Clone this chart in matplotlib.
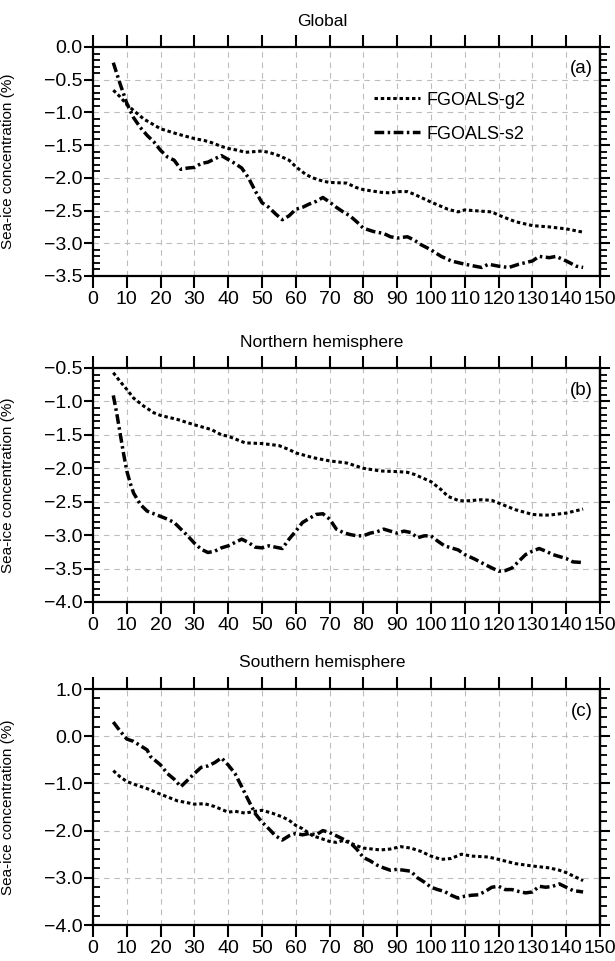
import matplotlib
matplotlib.use("Agg")
import matplotlib.pyplot as plt
from matplotlib.ticker import MultipleLocator, FuncFormatter
import numpy as np

plt.rcParams['font.family'] = ['Liberation Sans', 'DejaVu Sans']
plt.rcParams['lines.scale_dashes'] = False

# ---------------- data ----------------
labels = ["FGOALS-g2", "FGOALS-s2"]
titles = ["Global", "Northern hemisphere", "Southern hemisphere"]
panel_tags = ["(a)", "(b)", "(c)"]
ylabel = "Sea-ice concentration (%)"

# Panel (a) Global
a_g2_x = [6, 8, 10, 12, 15, 20, 25, 30, 33, 35, 38, 40, 43, 45, 50, 52, 55, 58, 60, 63, 65, 68, 70, 75, 78, 80,
          85, 88, 90, 93, 95, 100, 105, 108, 110, 115, 118, 120, 125, 130, 135, 140, 145]
a_g2_y = [-0.66, -0.76, -0.88, -0.97, -1.10, -1.25, -1.33, -1.40, -1.43, -1.46, -1.52, -1.55, -1.58, -1.61, -1.59,
          -1.61, -1.66, -1.73, -1.83, -1.95, -2.00, -2.05, -2.07, -2.08, -2.15, -2.18, -2.22, -2.23, -2.21, -2.21,
          -2.25, -2.37, -2.48, -2.52, -2.49, -2.51, -2.52, -2.57, -2.67, -2.73, -2.75, -2.78, -2.83]
a_s2_x = [6, 8, 10, 12, 14, 16, 18, 20, 22, 24, 26, 28, 30, 32, 34, 36, 38, 40, 42, 44, 46, 48, 50, 52, 54, 56, 58,
          60, 62, 64, 66, 68, 70, 72, 74, 76, 78, 80, 83, 86, 88, 90, 93, 95, 97, 100, 103, 106, 110, 113, 115,
          117, 120, 123, 126, 130, 132, 135, 137, 140, 143, 145]
a_s2_y = [-0.24, -0.56, -0.86, -1.08, -1.23, -1.35, -1.45, -1.58, -1.68, -1.73, -1.87, -1.85, -1.84, -1.78, -1.76,
          -1.71, -1.66, -1.72, -1.78, -1.85, -2.00, -2.20, -2.38, -2.45, -2.55, -2.64, -2.58, -2.48, -2.45, -2.40,
          -2.36, -2.30, -2.37, -2.45, -2.52, -2.58, -2.67, -2.77, -2.82, -2.85, -2.90, -2.92, -2.90, -2.95, -3.02,
          -3.10, -3.20, -3.27, -3.32, -3.35, -3.37, -3.32, -3.35, -3.37, -3.32, -3.27, -3.20, -3.22, -3.20, -3.27,
          -3.35, -3.37]

# Panel (b) Northern hemisphere
b_g2_x = [6, 8, 10, 12, 15, 18, 20, 25, 30, 35, 38, 40, 45, 50, 55, 58, 60, 65, 70, 75, 80, 85, 90, 93, 95, 100,
          103, 105, 108, 110, 115, 118, 120, 125, 130, 133, 135, 140, 145]
b_g2_y = [-0.57, -0.70, -0.82, -0.95, -1.07, -1.17, -1.21, -1.27, -1.35, -1.42, -1.50, -1.52, -1.62, -1.63, -1.66,
          -1.72, -1.77, -1.84, -1.89, -1.92, -2.00, -2.04, -2.05, -2.06, -2.09, -2.20, -2.32, -2.42, -2.48, -2.49,
          -2.47, -2.48, -2.52, -2.62, -2.69, -2.70, -2.70, -2.67, -2.61]
b_s2_x = [6, 7, 8, 9, 10, 11, 12, 14, 16, 18, 20, 22, 24, 26, 28, 30, 32, 34, 36, 38, 40, 42, 44, 46, 48, 50, 52,
          54, 56, 58, 60, 62, 64, 66, 68, 70, 72, 74, 76, 78, 80, 82, 84, 86, 88, 90, 92, 94, 96, 98, 100, 102, 104,
          106, 108, 110, 113, 116, 118, 120, 122, 124, 126, 128, 130, 132, 134, 136, 138, 140, 142, 145]
b_s2_y = [-0.91, -1.17, -1.47, -1.77, -2.04, -2.22, -2.37, -2.54, -2.64, -2.68, -2.72, -2.76, -2.81, -2.91, -3.01,
          -3.12, -3.21, -3.26, -3.24, -3.19, -3.16, -3.11, -3.06, -3.11, -3.18, -3.19, -3.16, -3.18, -3.20, -3.06,
          -2.94, -2.81, -2.75, -2.69, -2.68, -2.76, -2.91, -2.96, -2.99, -3.01, -3.01, -2.97, -2.95, -2.91, -2.94,
          -2.97, -2.94, -2.96, -3.04, -3.01, -3.01, -3.09, -3.16, -3.19, -3.22, -3.29, -3.36, -3.44, -3.49, -3.54,
          -3.53, -3.49, -3.39, -3.29, -3.24, -3.20, -3.24, -3.29, -3.32, -3.35, -3.40, -3.41]

# Panel (c) Southern hemisphere
c_g2_x = [6, 8, 10, 13, 16, 20, 25, 28, 30, 33, 36, 40, 42, 45, 48, 50, 53, 56, 58, 60, 62, 65, 68, 70, 72, 74, 76,
          78, 80, 85, 88, 91, 94, 97, 100, 103, 106, 109, 112, 117, 120, 125, 130, 135, 138, 140, 145]
c_g2_y = [-0.73, -0.86, -0.96, -1.04, -1.11, -1.23, -1.37, -1.41, -1.44, -1.43, -1.49, -1.61, -1.59, -1.63, -1.59,
          -1.57, -1.63, -1.71, -1.78, -1.89, -1.96, -2.11, -2.18, -2.23, -2.25, -2.21, -2.26, -2.32, -2.37, -2.41,
          -2.39, -2.34, -2.37, -2.44, -2.54, -2.61, -2.59, -2.50, -2.54, -2.56, -2.61, -2.70, -2.75, -2.79, -2.84,
          -2.89, -3.06]
c_s2_x = [6, 8, 10, 12, 14, 16, 17, 20, 22, 24, 26, 28, 30, 32, 34, 36, 38, 40, 42, 44, 46, 48, 50, 52, 54, 56, 58,
          60, 62, 64, 66, 68, 70, 72, 74, 76, 78, 80, 82, 84, 86, 88, 90, 92, 94, 96, 98, 100, 102, 104, 106, 108,
          110, 112, 114, 116, 118, 120, 122, 124, 126, 128, 130, 132, 134, 136, 138, 140, 142, 145]
c_s2_y = [0.30, 0.11, -0.06, -0.11, -0.20, -0.29, -0.43, -0.61, -0.79, -0.91, -1.07, -0.93, -0.79, -0.66, -0.63,
          -0.56, -0.46, -0.61, -0.79, -1.07, -1.36, -1.64, -1.82, -1.96, -2.11, -2.20, -2.11, -2.06, -2.09, -2.06,
          -2.09, -2.00, -2.04, -2.11, -2.18, -2.25, -2.39, -2.57, -2.64, -2.73, -2.79, -2.84, -2.82, -2.84, -2.86,
          -3.00, -3.09, -3.20, -3.25, -3.29, -3.37, -3.43, -3.39, -3.37, -3.36, -3.29, -3.20, -3.18, -3.25, -3.25,
          -3.29, -3.32, -3.30, -3.18, -3.20, -3.18, -3.13, -3.20, -3.27, -3.30]

panels = [
    (a_g2_x, a_g2_y, a_s2_x, a_s2_y, (-3.5, 0.0), 0.5, 0.1),
    (b_g2_x, b_g2_y, b_s2_x, b_s2_y, (-4.0, -0.5), 0.5, 0.1),
    (c_g2_x, c_g2_y, c_s2_x, c_s2_y, (-4.0, 1.0), 1.0, 0.2),
]


def yfmt(v, pos):
    s = "%.1f" % v
    if s == "-0.0":
        s = "0.0"
    return s.replace("-", "\u2212")


# ---------------- figure ----------------
W, H = 615, 961
fig = plt.figure(figsize=(W / 100, H / 100), dpi=100)

left_px, right_px = 93, 600
tops = [47, 368, 689]
bottoms = [276, 602, 925]
title_y = [22, 342, 663]

for i, (gx, gy, sx, sy, ylim, ymaj, ymin) in enumerate(panels):
    t, b = tops[i], bottoms[i]
    ax = fig.add_axes([left_px / W, 1 - b / H, (right_px - left_px) / W, (b - t) / H])
    ax.plot(gx, gy, color='black', lw=2.2, linestyle=(0, (2.5, 2.0)), label=labels[0],
            dash_capstyle='butt')
    ax.plot(sx, sy, color='black', lw=2.5, linestyle=(0, (7, 2.5, 1.8, 2.5)), label=labels[1],
            dash_capstyle='butt')
    ax.set_xlim(0, 150)
    ax.set_ylim(*ylim)
    ax.xaxis.set_major_locator(MultipleLocator(10))
    ax.yaxis.set_major_locator(MultipleLocator(ymaj))
    ax.yaxis.set_minor_locator(MultipleLocator(ymin))
    ax.yaxis.set_major_formatter(FuncFormatter(yfmt))
    ax.grid(True, which='major', color='#bdbdbd', linestyle=(0, (4, 3.5)), lw=0.8)
    for sp in ax.spines.values():
        sp.set_linewidth(1.6)
    ax.tick_params(axis='x', which='major', direction='out', top=True, bottom=True,
                   length=8.5, width=1.5, labelsize=14, pad=2)
    ax.tick_params(axis='y', which='major', direction='out', left=True, right=False,
                   length=6.5, width=1.5, labelsize=14, pad=1)
    ax.tick_params(axis='y', which='minor', direction='in', left=True, right=False,
                   length=5, width=1.3)
    sec = ax.secondary_yaxis('right')
    sec.yaxis.set_major_locator(MultipleLocator(ymaj))
    sec.yaxis.set_minor_locator(MultipleLocator(ymin))
    sec.tick_params(axis='y', which='major', direction='out', length=7, width=1.5, labelright=False)
    sec.tick_params(axis='y', which='minor', direction='out', length=5, width=1.3)
    sec.spines['right'].set_linewidth(1.6)

    ax.set_ylabel(ylabel, fontsize=11)
    ax.yaxis.set_label_coords((15 - left_px) / (right_px - left_px), 0.5)
    ax.text(0.985, 0.905, panel_tags[i], transform=ax.transAxes, ha='right', va='center', fontsize=13.5)
    fig.text(322 / W, 1 - title_y[i] / H, titles[i], ha='center', va='center', fontsize=12.5)

    if i == 0:
        ax.legend(loc='upper left', bbox_to_anchor=(0.555, 0.805), frameon=False, fontsize=13,
                  handlelength=2.5, handletextpad=0.4, labelspacing=0.95, borderpad=0, borderaxespad=0)

fig.savefig("out.png", dpi=100)
